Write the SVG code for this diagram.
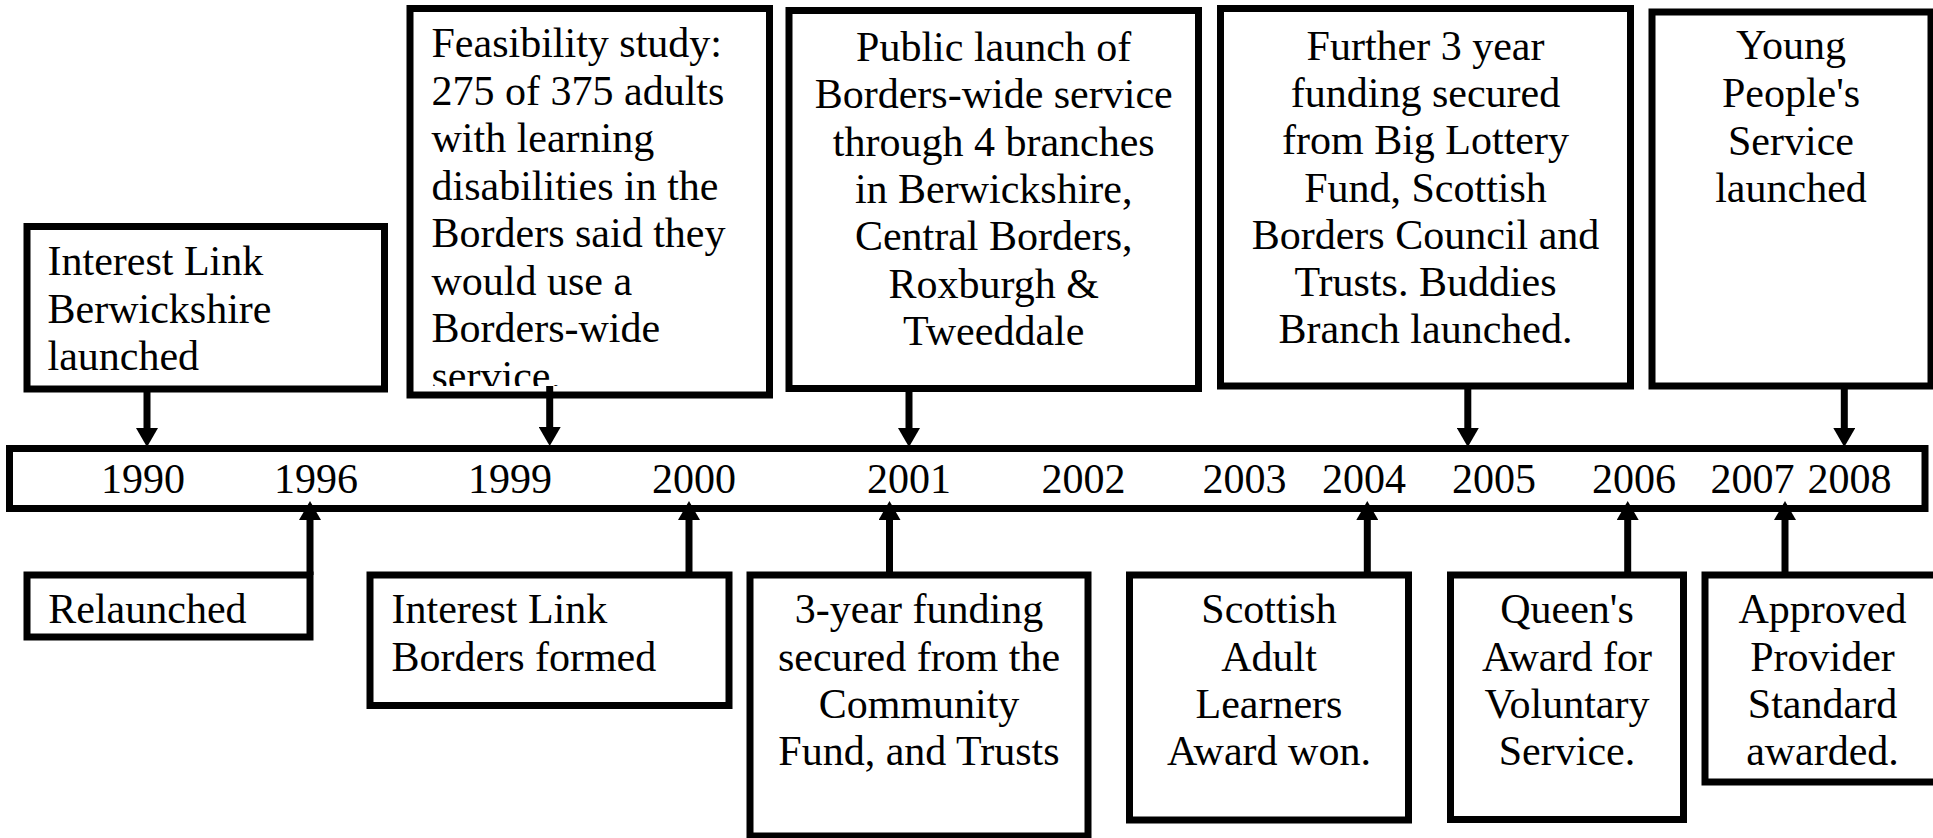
<svg xmlns="http://www.w3.org/2000/svg" width="1933" height="838" viewBox="0 0 1933 838">
  <style>
    .box { fill: #ffffff; stroke: #000000; stroke-width: 7; }
    .bar { fill: #ffffff; stroke: #000000; stroke-width: 7; }
    .lbl { font-family: "Liberation Serif", "Times New Roman", serif; font-size: 42px; fill: #000000; }
    .mid { text-anchor: middle; }
    .yr { font-family: "Liberation Serif", "Times New Roman", serif; font-size: 42px; fill: #000000; text-anchor: middle; }
    .shaft { stroke: #000000; stroke-width: 7; fill: none; marker-end: url(#head); }
  </style>
  <defs>
    <marker id="head" viewBox="0 0 19 22" refX="0" refY="11" markerWidth="19" markerHeight="22" markerUnits="userSpaceOnUse" orient="auto">
      <path d="M0,0 L19,11 L0,22 Z" fill="#000000"/>
    </marker>
    <clipPath id="clip-feasibility">
      <rect x="413" y="12" width="353" height="374"/>
    </clipPath>
  </defs>

  <rect width="1933" height="838" fill="#ffffff"/>

  <!-- timeline bar with years -->
  <g id="timeline">
    <rect class="bar" x="9.5" y="448.5" width="1915.5" height="60"/>
    <text class="yr" x="143" y="493">1990</text>
    <text class="yr" x="316" y="493">1996</text>
    <text class="yr" x="510" y="493">1999</text>
    <text class="yr" x="694" y="493">2000</text>
    <text class="yr" x="909" y="493">2001</text>
    <text class="yr" x="1083.5" y="493">2002</text>
    <text class="yr" x="1244.5" y="493">2003</text>
    <text class="yr" x="1364" y="493">2004</text>
    <text class="yr" x="1494" y="493">2005</text>
    <text class="yr" x="1634" y="493">2006</text>
    <text class="yr" x="1752.5" y="493">2007</text>
    <text class="yr" x="1849.5" y="493">2008</text>
  </g>

  <!-- events above the timeline -->
  <g id="ev-1990">
    <rect class="box" x="27" y="226.5" width="357.5" height="162.5"/>
    <text class="lbl" x="47.5" y="275">Interest Link</text>
    <text class="lbl" x="47.5" y="322.5">Berwickshire</text>
    <text class="lbl" x="47.5" y="370">launched</text>
  </g>

  <g id="ev-1999">
    <rect class="box" x="410" y="8.5" width="359.5" height="386.5"/>
    <g clip-path="url(#clip-feasibility)">
      <text class="lbl" x="431.5" y="57.3">Feasibility study:</text>
      <text class="lbl" x="431.5" y="104.8">275 of 375 adults</text>
      <text class="lbl" x="431.5" y="152.3">with learning</text>
      <text class="lbl" x="431.5" y="199.8">disabilities in the</text>
      <text class="lbl" x="431.5" y="247.3">Borders said they</text>
      <text class="lbl" x="431.5" y="294.8">would use a</text>
      <text class="lbl" x="431.5" y="342.3">Borders-wide</text>
      <text class="lbl" x="431.5" y="389.8">service.</text>
    </g>
  </g>

  <g id="ev-2001-launch">
    <rect class="box" x="789" y="10.5" width="409.5" height="378"/>
    <text class="lbl mid" x="993.7" y="61">Public launch of</text>
    <text class="lbl mid" x="993.7" y="108.3">Borders-wide service</text>
    <text class="lbl mid" x="993.7" y="155.6">through 4 branches</text>
    <text class="lbl mid" x="993.7" y="202.9">in Berwickshire,</text>
    <text class="lbl mid" x="993.7" y="250.2">Central Borders,</text>
    <text class="lbl mid" x="993.7" y="297.5">Roxburgh &amp;</text>
    <text class="lbl mid" x="993.7" y="344.8">Tweeddale</text>
  </g>

  <g id="ev-2005">
    <rect class="box" x="1220.5" y="8.5" width="410" height="377.5"/>
    <text class="lbl mid" x="1425.5" y="60">Further 3 year</text>
    <text class="lbl mid" x="1425.5" y="107.2">funding secured</text>
    <text class="lbl mid" x="1425.5" y="154.4">from Big Lottery</text>
    <text class="lbl mid" x="1425.5" y="201.6">Fund, Scottish</text>
    <text class="lbl mid" x="1425.5" y="248.8">Borders Council and</text>
    <text class="lbl mid" x="1425.5" y="296">Trusts. Buddies</text>
    <text class="lbl mid" x="1425.5" y="343.2">Branch launched.</text>
  </g>

  <g id="ev-2008">
    <rect class="box" x="1652" y="12" width="279" height="374"/>
    <text class="lbl mid" x="1791" y="59">Young</text>
    <text class="lbl mid" x="1791" y="106.8">People's</text>
    <text class="lbl mid" x="1791" y="154.6">Service</text>
    <text class="lbl mid" x="1791" y="202.4">launched</text>
  </g>

  <!-- events below the timeline -->
  <g id="ev-1996">
    <rect class="box" x="27" y="575" width="283" height="62"/>
    <text class="lbl" x="48.3" y="623.3">Relaunched</text>
  </g>

  <g id="ev-2000">
    <rect class="box" x="370" y="575" width="359" height="130.5"/>
    <text class="lbl" x="391.5" y="623.3">Interest Link</text>
    <text class="lbl" x="391.5" y="670.5">Borders formed</text>
  </g>

  <g id="ev-2001-funding">
    <rect class="box" x="750" y="575" width="338" height="261"/>
    <text class="lbl mid" x="919" y="623.3">3-year funding</text>
    <text class="lbl mid" x="919" y="670.5">secured from the</text>
    <text class="lbl mid" x="919" y="717.7">Community</text>
    <text class="lbl mid" x="919" y="764.9">Fund, and Trusts</text>
  </g>

  <g id="ev-2004">
    <rect class="box" x="1129.5" y="575" width="279" height="245"/>
    <text class="lbl mid" x="1269" y="623.3">Scottish</text>
    <text class="lbl mid" x="1269" y="670.5">Adult</text>
    <text class="lbl mid" x="1269" y="717.7">Learners</text>
    <text class="lbl mid" x="1269" y="764.9">Award won.</text>
  </g>

  <g id="ev-2006">
    <rect class="box" x="1450.5" y="575" width="233" height="244.5"/>
    <text class="lbl mid" x="1567" y="623.3">Queen's</text>
    <text class="lbl mid" x="1567" y="670.5">Award for</text>
    <text class="lbl mid" x="1567" y="717.7">Voluntary</text>
    <text class="lbl mid" x="1567" y="764.9">Service.</text>
  </g>

  <g id="ev-2007">
    <rect class="box" x="1705" y="575" width="236" height="207"/>
    <text class="lbl mid" x="1822.5" y="623.3">Approved</text>
    <text class="lbl mid" x="1822.5" y="670.5">Provider</text>
    <text class="lbl mid" x="1822.5" y="717.7">Standard</text>
    <text class="lbl mid" x="1822.5" y="764.9">awarded.</text>
  </g>

  <!-- connectors from each event to its year -->
  <g id="connectors">
    <line class="shaft" x1="147" y1="389" x2="147" y2="428"/>
    <line class="shaft" x1="549.7" y1="386" x2="549.7" y2="427"/>
    <line class="shaft" x1="909" y1="388" x2="909" y2="428"/>
    <line class="shaft" x1="1467.8" y1="386" x2="1467.8" y2="428"/>
    <line class="shaft" x1="1844.3" y1="386" x2="1844.3" y2="428"/>

    <line class="shaft" x1="310" y1="575" x2="310" y2="520"/>
    <line class="shaft" x1="689" y1="575" x2="689" y2="520"/>
    <line class="shaft" x1="889.5" y1="575" x2="889.5" y2="520"/>
    <line class="shaft" x1="1367.3" y1="575" x2="1367.3" y2="520"/>
    <line class="shaft" x1="1627.7" y1="575" x2="1627.7" y2="520"/>
    <line class="shaft" x1="1785" y1="575" x2="1785" y2="520"/>
  </g>
</svg>
